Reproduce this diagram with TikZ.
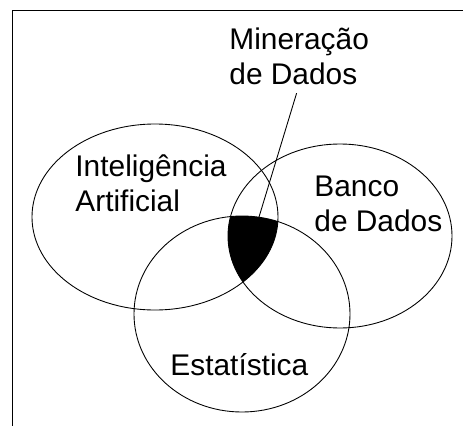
\documentclass[tikz,border=0pt]{standalone}
\usepackage{fontspec}
\setmainfont{Liberation Sans}

\newcommand{\ellArtificial}{(155,217) ellipse [x radius=123, y radius=93]}
\newcommand{\ellBanco}{(340,236) ellipse [x radius=112, y radius=92]}
\newcommand{\ellEstat}{(242,314) ellipse [x radius=108, y radius=98]}

\begin{document}
\begin{tikzpicture}[x=0.02cm, y=-0.02cm, line width=0.5pt, every node/.style={font=\fontsize{17}{19.8}\selectfont, align=left, inner sep=0pt, anchor=base west}]
\useasboundingbox (0,0) rectangle (463,426);
\draw (463,10) -- (12,10) -- (12,426);

\draw \ellArtificial;
\draw \ellBanco;
\draw \ellEstat;
\begin{scope}
\clip \ellArtificial;
\clip \ellBanco;
\fill \ellEstat;
\end{scope}

\node (mineracao) at (229,84) {Mineração\\de Dados};
\node (ia) at (75,211) {Inteligência\\Artificial};
\node (bd) at (314,231) {Banco\\de Dados};
\node (est) at (170,375) {Estatística};

\coordinate (md) at (259,217);
\draw[shorten <=5pt] (mineracao.south) -- (md);
\end{tikzpicture}
\end{document}
